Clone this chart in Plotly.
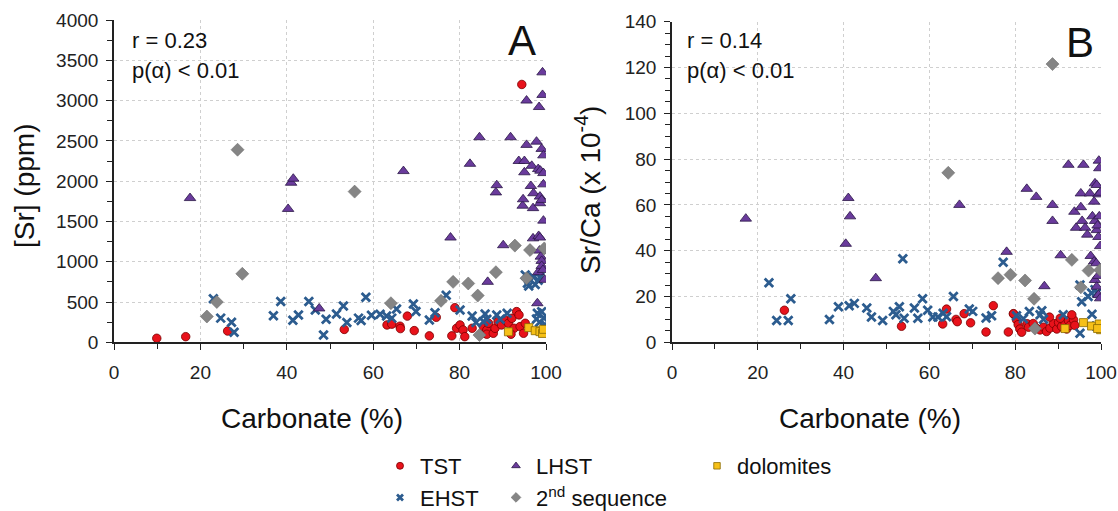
import plotly.graph_objects as go

# ---------------- Panel A : [Sr] (ppm) vs carbonate (%) ----------------
tst_a_x = [9.9, 16.6, 26.3, 53.3, 63.2, 64.3, 66.2, 66.3, 67.9, 69.5, 73.0, 74.6, 78.2, 78.9, 79.3,
           80.1, 80.8, 81.2, 82.9, 85.2, 85.5, 86.3, 86.7, 86.3, 87.8, 88.2, 88.9, 89.7, 90.5, 91.3,
           92.1, 93.2, 93.75, 92.6, 94.0, 91.9, 94.8, 95.2, 94.4]
tst_a_y = [50, 70, 140, 160, 215, 225, 200, 170, 325, 145, 80, 310, 80, 430, 174,
           215, 153, 70, 174, 112, 195, 153, 236, 100, 112, 174, 257, 215, 277, 236,
           298, 381, 340, 174, 195, 100, 112, 236, 3200]

ehst_a_x = [23.0, 24.7, 27.2, 27.8, 36.9, 38.6, 41.4, 42.7, 45.1, 46.6, 48.5, 49.1, 51.5, 53.1, 53.9,
            56.6, 57.2, 58.3, 59.6, 61.6, 63.1, 64.3, 65.4, 69.3, 69.9, 73.0, 74.3, 76.9, 80.1, 82.9,
            83.8, 85.5, 85.9, 86.3, 88.6, 89.4, 91.0, 95.2, 95.7, 96.0, 97.1, 97.5, 98.2, 98.6, 98.0,
            99.0, 99.5, 98.5, 99.8, 97.8]
ehst_a_y = [540, 300, 250, 125, 330, 505, 275, 340, 505, 400, 90, 285, 350, 450, 245,
            300, 270, 560, 335, 348, 327, 300, 414, 476, 381, 277, 368, 585, 400, 325,
            245, 257, 352, 286, 339, 286, 360, 836, 733, 700, 808, 718, 770, 808, 360,
            380, 300, 250, 220, 290]

lhst_a_x = [17.6, 40.3, 41.0, 41.5, 47.5, 67.0, 77.9, 82.4, 84.6, 86.5, 88.4, 88.6, 90.1, 91.8, 93.7,
            94.6, 94.7, 95.0, 95.0, 95.5, 95.5, 96.5, 96.7, 97.0, 97.0, 97.1, 97.8, 98.0, 98.2, 98.2,
            98.3, 98.4, 98.5, 98.6, 98.6, 98.6, 98.7, 98.8, 99.0, 99.0, 99.0, 99.0, 99.2, 99.2, 99.3,
            99.4, 99.4, 99.4, 99.4, 99.7]
lhst_a_y = [1790, 1655, 1980, 2030, 420, 2125, 1300, 2215, 2545, 750, 1860, 1950, 1205, 2545, 2250,
            1695, 1775, 2250, 2110, 3000, 2450, 1940, 2190, 1665, 1290, 1850, 2490, 485, 2150, 870,
            1320, 2920, 1138, 1808, 1726, 1300, 2130, 1063, 2400, 1767, 1010, 948, 3350, 3070, 898,
            2320, 2100, 1960, 1510, 775]

seq2_a_x = [21.5, 23.8, 28.6, 29.7, 55.7, 64.1, 75.7, 78.5, 82.0, 84.2, 84.6, 88.4, 92.8, 95.5, 96.3, 99.6]
seq2_a_y = [320, 500, 2390, 850, 1870, 485, 515, 750, 730, 580, 90, 870, 1200, 795, 1145, 1165]

dolo_a_x = [91.3, 96.0, 97.5, 98.6, 99.2, 99.4]
dolo_a_y = [130, 182, 144, 132, 110, 161]

# ---------------- Panel B : Sr/Ca (x 10^-4) vs carbonate (%) ----------------
tst_b_x = [26.2, 53.5, 63.1, 64.0, 66.2, 66.5, 68.1, 69.6, 73.2, 74.9, 78.4, 79.6, 80.3, 80.7, 81.1,
           81.5, 82.8, 83.1, 84.2, 84.9, 85.8, 86.6, 87.3, 88.1, 88.9, 89.7, 90.1, 90.8, 91.6, 92.0,
           92.4, 92.8, 93.6, 93.9, 93.2, 88.0, 90.5, 79.6]
tst_b_y = [14, 7, 8, 14.5, 10, 9, 12.5, 8.5, 4.5, 16, 4.5, 12.4, 9.8, 7.7, 5.8,
           4.4, 8.1, 6.6, 8.2, 6.2, 5.4, 6.6, 4.7, 6.2, 8.2, 5.8, 8.7, 6.9, 8.7, 5.8,
           9.5, 7.4, 9.8, 7.4, 12, 11, 10.5, 12.5]

ehst_b_x = [22.6, 24.4, 27.1, 27.7, 36.7, 38.8, 41.3, 42.5, 45.4, 46.5, 49.1, 51.6, 52.2, 53.0, 53.8,
            54.1, 56.5, 57.3, 58.4, 59.6, 60.8, 62.0, 63.2, 64.0, 65.6, 69.3, 70.1, 73.2, 74.5, 77.2,
            80.3, 81.9, 83.3, 85.8, 86.2, 86.6, 91.2, 95.1, 95.1, 95.5, 97.0, 97.8, 97.9, 98.6, 98.9,
            99.0]
ehst_b_y = [26, 9.5, 9.5, 19, 10, 15.5, 16, 17, 15, 11, 9.5, 13.5, 12, 15.5, 36.5,
            10.5, 15, 10.5, 19, 14, 11, 11, 12.7, 11.2, 20, 14.5, 13.5, 10.6, 11.6, 35,
            11.6, 10.3, 13.4, 12, 13.8, 10.1, 12, 25, 4, 17.7, 20, 21.5, 12.2, 23, 7.1,
            21.5]

lhst_b_x = [17.2, 40.5, 41.1, 41.5, 47.5, 67.0, 78.0, 82.7, 84.9, 86.8, 88.7, 88.7, 90.6, 92.4, 93.8,
            94.2, 95.3, 95.3, 95.9, 95.6, 96.3, 96.8, 97.4, 97.6, 98.0, 98.4, 98.4, 98.6, 98.6, 98.6,
            98.9, 99.0, 99.0, 99.0, 99.2, 99.4, 99.4, 99.4, 99.5, 99.6, 99.8, 99.8, 99.8, 99.6, 99.3]
lhst_b_y = [54, 43, 63, 55, 28, 60, 39.5, 67, 63.5, 24.5, 60, 53, 38, 77.5, 57,
            50, 65, 59, 77.5, 53, 50, 47, 65, 37.7, 55, 61.4, 35.3, 69.4, 27.2, 53,
            34.5, 68.7, 24.3, 49, 51, 64.6, 20.7, 46, 79.3, 76, 65.3, 19.2, 42, 55, 29]

seq2_b_x = [64.4, 76.0, 78.9, 82.3, 84.4, 84.6, 88.7, 93.2, 95.3, 97.1, 99.8]
seq2_b_y = [74, 28, 29.5, 27, 19, 6, 121.5, 36, 24, 31.3, 31.6]

dolo_b_x = [91.6, 95.9, 97.8, 99.6, 99.9, 99.2]
dolo_b_y = [6, 8.6, 7.1, 8, 5.5, 6]

# ---------------- styling ----------------
FONT = "Liberation Sans, Arial, sans-serif"
series = [
    ("TST", "legend", (tst_a_x, tst_a_y), (tst_b_x, tst_b_y),
     dict(symbol="circle", size=8.5, color="#e8121b", line=dict(color="#7a0000", width=0.8)), 7),
    ("EHST", "legend", (ehst_a_x, ehst_a_y), (ehst_b_x, ehst_b_y),
     dict(symbol="x-thin", size=8.5, color="#2c5c8f", line=dict(color="#2c5c8f", width=2.8)), 6),
    ("LHST", "legend2", (lhst_a_x, lhst_a_y), (lhst_b_x, lhst_b_y),
     dict(symbol="triangle-up", size=10, color="#6a3b9c", line=dict(color="#2b1846", width=0.8)), 7.5),
    ("2<sup>nd</sup> sequence", "legend2", (seq2_a_x, seq2_a_y), (seq2_b_x, seq2_b_y),
     dict(symbol="diamond", size=10, color="#858585", line=dict(color="#6e6e6e", width=0.6)), 7.5),
    ("dolomites", "legend3", (dolo_a_x, dolo_a_y), (dolo_b_x, dolo_b_y),
     dict(symbol="square", size=8, color="#f6c018", line=dict(color="#8a6a00", width=0.8)), 6.5),
]

fig = go.Figure()
for name, leg, (ax, ay), (bx, by), mk, leg_size in series:
    fig.add_trace(go.Scatter(x=ax, y=ay, mode="markers", name=name, marker=mk,
                             legend=leg, legendgroup=name, showlegend=False,
                             xaxis="x", yaxis="y"))
    fig.add_trace(go.Scatter(x=bx, y=by, mode="markers", name=name, marker=mk,
                             legend=leg, legendgroup=name, showlegend=False,
                             xaxis="x2", yaxis="y2"))
    # legend entry (smaller key symbol, as in the original figure)
    fig.add_trace(go.Scatter(x=[None], y=[None], mode="markers", name=name,
                             marker=dict(mk, size=leg_size), legend=leg, legendgroup=name,
                             showlegend=True, xaxis="x", yaxis="y", hoverinfo="skip"))

W, H = 1118, 511

def px_x(p):
    return p / W

def px_y(p):
    return 1 - p / H

axis_common = dict(
    showline=True, linecolor="#222", linewidth=1.6,
    ticks="outside", ticklen=6, tickwidth=1.4, tickcolor="#222",
    showgrid=True, gridcolor="#cfcfcf", griddash="dot", gridwidth=1,
    zeroline=False, tickfont=dict(family=FONT, size=19, color="#222"),
    automargin=False,
)

x_common = dict(axis_common, range=[0, 100], dtick=20, tick0=0, ticklabelstandoff=6,
                minor=dict(dtick=10, ticks="outside", ticklen=5, tickcolor="#222", showgrid=False))

fig.update_layout(
    width=W, height=H,
    margin=dict(l=0, r=0, t=0, b=0, autoexpand=False),
    paper_bgcolor="white", plot_bgcolor="white",
    font=dict(family=FONT, color="#111"),
    showlegend=True,
    xaxis=dict(x_common, domain=[px_x(114), px_x(546)], anchor="y"),
    xaxis2=dict(x_common, domain=[px_x(672), px_x(1101)], anchor="y2"),
    yaxis=dict(axis_common, range=[0, 4000], dtick=500, domain=[px_y(342.3), px_y(20)], anchor="x",
               ticklabelstandoff=4,
               minor=dict(dtick=250, ticks="outside", ticklen=5, tickcolor="#222", showgrid=False)),
    yaxis2=dict(axis_common, range=[0, 140], dtick=20, domain=[px_y(342.3), px_y(21.7)], anchor="x2",
                ticklabelstandoff=4,
                minor=dict(dtick=5, ticks="outside", ticklen=5, tickcolor="#222", showgrid=False)),
)

leg_common = dict(yanchor="top", y=px_y(445), xanchor="left", orientation="v",
                  font=dict(family=FONT, size=22, color="#111"), itemsizing="trace",
                  tracegroupgap=0, bgcolor="rgba(0,0,0,0)", borderwidth=0)
fig.update_layout(
    legend=dict(leg_common, x=px_x(380)),
    legend2=dict(leg_common, x=px_x(496)),
    legend3=dict(leg_common, x=px_x(697)),
)

ann_font = dict(family=FONT, size=22, color="#111")
title_font = dict(family=FONT, size=28, color="#111")

def note(text, x, y, font, xanchor="left", angle=0):
    return dict(text=text, x=px_x(x), y=px_y(y), xref="paper", yref="paper",
                xanchor=xanchor, yanchor="middle", showarrow=False, font=font, textangle=angle)

annotations = [
    note("r = 0.23", 130, 41, ann_font),
    note("p(α) < 0.01", 130, 70, ann_font),
    note("A", 538, 41, dict(family=FONT, size=42, color="#111"), xanchor="right"),
    note("r = 0.14", 685, 41, ann_font),
    note("p(α) < 0.01", 685, 70, ann_font),
    note("B", 1096, 42, dict(family=FONT, size=42, color="#111"), xanchor="right"),
    # axis titles
    note("Carbonate (%)", 312, 418, title_font, xanchor="center"),
    note("Carbonate (%)", 870, 418, title_font, xanchor="center"),
    note("[Sr] (ppm)", 24, 186, title_font, xanchor="center", angle=-90),
    note("Sr/Ca (x 10<sup>-4</sup>)", 588, 190, title_font, xanchor="center", angle=-90),
]
fig.update_layout(annotations=annotations)

fig.write_html("out.html")
